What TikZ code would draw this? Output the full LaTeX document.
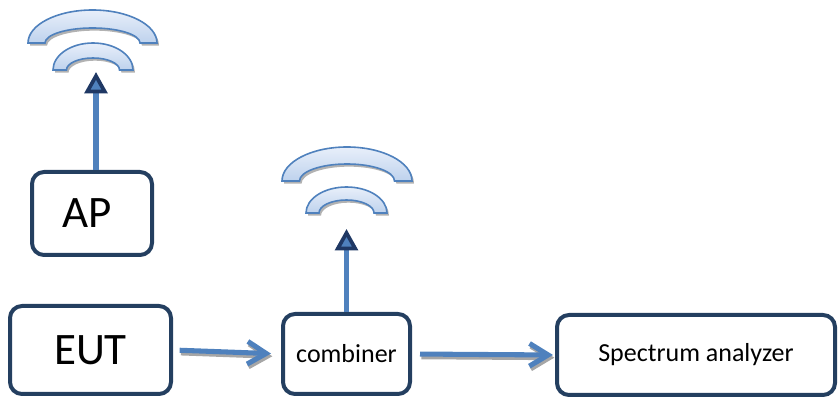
\documentclass[tikz,border=0pt]{standalone}
\usepackage{fontspec}
\setmainfont{Carlito}
\usetikzlibrary{arrows.meta, positioning}
\definecolor{boxnavy}{RGB}{36,63,96}
\definecolor{linkblue}{RGB}{79,129,189}
\definecolor{tipnavy}{RGB}{31,56,100}
\definecolor{wavetop}{RGB}{232,239,250}
\definecolor{wavebottom}{RGB}{190,210,237}

\begin{document}
\begin{tikzpicture}[x=0.75pt,y=0.75pt,yscale=-1,xscale=1,
	unit/.style={draw=boxnavy, line width=3pt, rounded corners=9pt, fill=white, inner sep=0pt},
	big text/.style={font=\fontsize{33.75}{40}\selectfont},
	small text/.style={font=\fontsize{19.5}{24}\selectfont},
	feed/.style={draw=linkblue, line width=4pt, -{Triangle[length=16pt,width=17pt,color=tipnavy,fill=linkblue,line width=2.8pt]}},
	link/.style={draw=linkblue, line width=3.8pt, -{Straight Barb[length=14pt,width=17pt]},
		preaction={draw=black!35, line width=3.8pt, -{Straight Barb[length=14pt,width=17pt]}, transform canvas={xshift=1pt,yshift=-2pt}}},
	wave/.style={draw=linkblue, line width=1.2pt, top color=wavetop, bottom color=wavebottom,
		preaction={fill=black!30, transform canvas={xshift=1.5pt,yshift=-2pt}}}
	]
	\useasboundingbox (0,0) rectangle (838,398);

	%Shape: Rounded Rect [id:ap]
	\node [unit, big text, minimum width=90pt, minimum height=62.25pt] (ap) at (92,213.5) {AP\hspace*{8pt}};
	%Shape: Rounded Rect [id:eut]
	\node [unit, big text, minimum width=120.75pt, minimum height=66pt] (eut) at (90.5,350) {EUT};
	%Shape: Rounded Rect [id:combiner]
	\node [unit, small text, minimum width=95.25pt, minimum height=60pt] (combiner) at (346.5,354) {combiner};
	%Shape: Rounded Rect [id:analyzer]
	\node [unit, small text, minimum width=208.5pt, minimum height=60pt] (analyzer) at (696,355) {\raisebox{4pt}{Spectrum analyzer}};

	%Shape: Block Arc [id:ap wave outer]
	\path [wave] (28,43) arc [start angle=180, end angle=360, x radius=64.5, y radius=33] -- ++(-17,0) arc [start angle=0, end angle=-180, x radius=47.5, y radius=15] -- cycle ;
	%Shape: Block Arc [id:ap wave inner]
	\path [wave] (53,70) arc [start angle=180, end angle=360, x radius=40, y radius=27] -- ++(-13.5,0) arc [start angle=0, end angle=-180, x radius=26.5, y radius=12] -- cycle ;
	%Shape: Block Arc [id:combiner wave outer]
	\path [wave] (282,181) arc [start angle=180, end angle=360, x radius=65, y radius=34] -- ++(-17.5,0) arc [start angle=0, end angle=-180, x radius=47.5, y radius=17] -- cycle ;
	%Shape: Block Arc [id:combiner wave inner]
	\path [wave] (306,213) arc [start angle=180, end angle=360, x radius=40.5, y radius=26] -- ++(-13,0) arc [start angle=0, end angle=-180, x radius=27.5, y radius=13] -- cycle ;

	\coordinate (ap tip) at (96,72);
	\coordinate (combiner tip) at (346.5,229);

	%Straight Lines [id:ap feed]
	\draw [feed] (ap.north -| ap tip) -- (ap tip) ;
	%Straight Lines [id:combiner feed]
	\draw [feed] (combiner.north) -- (combiner tip) ;
	%Straight Lines [id:eut to combiner]
	\draw [link, shorten <=5pt, shorten >=7.5pt] (eut.east) -- (combiner.west) ;
	%Straight Lines [id:combiner to analyzer]
	\draw [link, shorten <=6pt, shorten >=1.5pt] (combiner.east) -- (analyzer.west) ;

\end{tikzpicture}
\end{document}
